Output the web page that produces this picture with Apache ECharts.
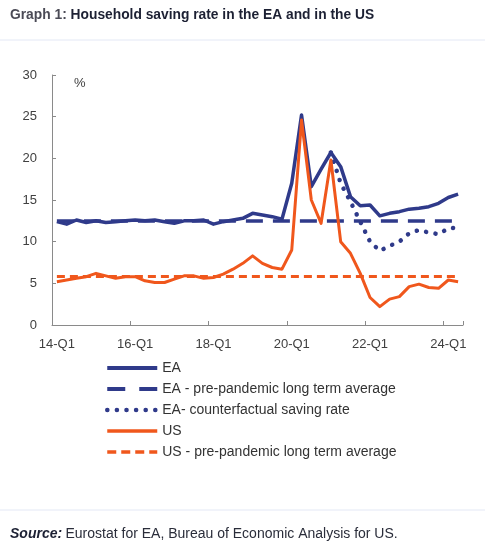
<!DOCTYPE html>
<html>
<head>
<meta charset="utf-8">
<style>
html,body{margin:0;padding:0;background:#fff;}
#chart{width:485px;height:553px;}
</style>
<script src="https://cdn.jsdelivr.net/npm/echarts@6/dist/echarts.min.js"></script>
</head>
<body>
<div id="chart"></div>
<script>
const categories = ['14-Q1','14-Q2','14-Q3','14-Q4','15-Q1','15-Q2','15-Q3','15-Q4',
  '16-Q1','16-Q2','16-Q3','16-Q4','17-Q1','17-Q2','17-Q3','17-Q4',
  '18-Q1','18-Q2','18-Q3','18-Q4','19-Q1','19-Q2','19-Q3','19-Q4',
  '20-Q1','20-Q2','20-Q3','20-Q4','21-Q1','21-Q2','21-Q3','21-Q4',
  '22-Q1','22-Q2','22-Q3','22-Q4','23-Q1','23-Q2','23-Q3','23-Q4',
  '24-Q1','24-Q2'];

const eaRate = [12.4,12.1,12.6,12.3,12.5,12.3,12.4,12.5,12.6,12.5,12.6,12.4,12.2,12.5,12.5,12.6,
  12.1,12.4,12.6,12.8,13.4,13.2,13.0,12.7,17.0,25.2,16.6,18.7,20.7,19.0,15.4,14.3,
  14.4,13.1,13.4,13.6,13.9,14.0,14.2,14.6,15.3,15.7];

const eaCounterfactual = [null,null,null,null,null,null,null,null,null,null,null,null,null,null,
  null,null,null,null,null,null,null,null,null,null,null,null,null,null,
  20.7,17.0,14.8,12.4,10.0,8.9,9.5,10.0,11.0,11.4,11.1,10.9,11.6,11.7];

const usRate = [5.2,5.4,5.6,5.8,6.2,5.9,5.6,5.8,5.8,5.3,5.1,5.1,5.5,5.9,5.9,5.6,
  5.7,6.1,6.7,7.4,8.3,7.4,6.9,6.7,9.0,24.6,15.0,12.2,19.8,10.0,8.6,6.2,
  3.3,2.2,3.1,3.4,4.6,4.9,4.5,4.4,5.4,5.2];

const eaAverage = 12.5;
const usAverage = 5.9;

const yTicks = [0, 30, 5];

const legendNames = ['EA', 'EA - pre-pandemic long term average', 'EA- counterfactual saving rate', 'US', 'US - pre-pandemic long term average'];

const NAVY = '#2f3a8a';
const ORANGE = '#f0571c';
const FONT = 'Liberation Sans, Arial, sans-serif';

const eaDash = [17, 10];
const usDash = [8, 5];
const dotDash = [0.1, 9.5];

const chart = echarts.init(document.getElementById('chart'), null, {renderer: 'canvas'});

function avgLine(value, color, dash, width) {
  return {
    silent: true,
    symbol: ['none', 'none'],
    label: {show: false},
    lineStyle: {color: color, type: dash, width: width, cap: 'butt'},
    emphasis: {disabled: true},
    data: [[{coord: [categories[0], value]}, {coord: [categories[categories.length - 1], value]}]]
  };
}

chart.setOption({
  animation: false,
  textStyle: {fontFamily: FONT},
  title: {
    left: 10, top: 8, padding: 0,
    text: '{a|Graph 1: }{b|Household saving rate in the EA and in the US}',
    textStyle: {
      rich: {
        a: {fontFamily: FONT, fontSize: 13.8, color: '#4a4a55'},
        b: {fontFamily: FONT, fontSize: 13.8, fontWeight: 'bold', color: '#1c2033'}
      }
    }
  },
  graphic: [
    {type: 'line', shape: {x1: 0, y1: 40, x2: 485, y2: 40}, style: {stroke: '#e3e8f5', lineWidth: 1}, silent: true},
    {type: 'line', shape: {x1: 0, y1: 510, x2: 485, y2: 510}, style: {stroke: '#e3e8f5', lineWidth: 1}, silent: true},
    {type: 'text', left: 74, top: 77, style: {text: '%', fontFamily: FONT, fontSize: 13, fill: '#404040'}},
    {type: 'text', left: 10, top: 527, style: {
      text: '{s|Source:} {t|Eurostat for EA, Bureau of Economic Analysis for US.}',
      rich: {
        s: {fontFamily: FONT, fontSize: 14, fontWeight: 'bold', fontStyle: 'italic', fill: '#1c2033'},
        t: {fontFamily: FONT, fontSize: 14, fill: '#2a2d3a'}
      }
    }}
  ],
  grid: {left: 52, right: 22, top: 75, bottom: 228, containLabel: false},
  legend: {
    orient: 'vertical',
    left: 100, top: 356,
    itemWidth: 50, itemHeight: 14, itemGap: 7,
    itemStyle: {opacity: 0},
    textStyle: {fontFamily: FONT, fontSize: 14, color: '#333'},
    selectedMode: false,
    data: [
      {name: legendNames[0], lineStyle: {width: 4, color: NAVY}},
      {name: legendNames[1], lineStyle: {width: 4, color: NAVY, type: [18, 14]}},
      {name: legendNames[2], lineStyle: {width: 4.5, color: NAVY, type: dotDash, cap: 'round'}},
      {name: legendNames[3], lineStyle: {width: 3.5, color: ORANGE}},
      {name: legendNames[4], lineStyle: {width: 3.5, color: ORANGE, type: [9, 5]}}
    ]
  },
  xAxis: {
    type: 'category',
    data: categories,
    boundaryGap: true,
    axisLine: {show: true, lineStyle: {color: '#8a8a8a', width: 1}},
    axisTick: {show: true, inside: true, length: 4, interval: 7, lineStyle: {color: '#8a8a8a'}},
    axisLabel: {interval: 7, margin: 13, fontFamily: FONT, fontSize: 13, color: '#404040'},
    splitLine: {show: false}
  },
  yAxis: {
    type: 'value',
    min: yTicks[0], max: yTicks[1], interval: yTicks[2],
    axisLine: {show: true, lineStyle: {color: '#8a8a8a', width: 1}},
    axisTick: {show: true, inside: true, length: 4, lineStyle: {color: '#8a8a8a'}},
    axisLabel: {margin: 15, fontFamily: FONT, fontSize: 13, color: '#404040'},
    splitLine: {show: false}
  },
  series: [
    {
      name: legendNames[1], type: 'line', data: [],
      symbol: 'none', color: NAVY,
      lineStyle: {color: NAVY, type: eaDash, width: 3.5},
      markLine: avgLine(eaAverage, NAVY, eaDash, 3.5), z: 2
    },
    {
      name: legendNames[4], type: 'line', data: [],
      symbol: 'none', color: ORANGE,
      lineStyle: {color: ORANGE, type: usDash, width: 3},
      markLine: avgLine(usAverage, ORANGE, usDash, 3), z: 2
    },
    {
      name: legendNames[2], type: 'line', data: eaCounterfactual,
      symbol: 'none', color: NAVY, connectNulls: false,
      lineStyle: {color: NAVY, type: dotDash, width: 4.5, cap: 'round'}, z: 3
    },
    {
      name: legendNames[0], type: 'line', data: eaRate,
      symbol: 'none', color: NAVY,
      lineStyle: {color: NAVY, width: 3.5, join: 'round'}, z: 4
    },
    {
      name: legendNames[3], type: 'line', data: usRate,
      symbol: 'none', color: ORANGE,
      lineStyle: {color: ORANGE, width: 3, join: 'round'}, z: 5
    }
  ]
});
</script>
</body>
</html>
